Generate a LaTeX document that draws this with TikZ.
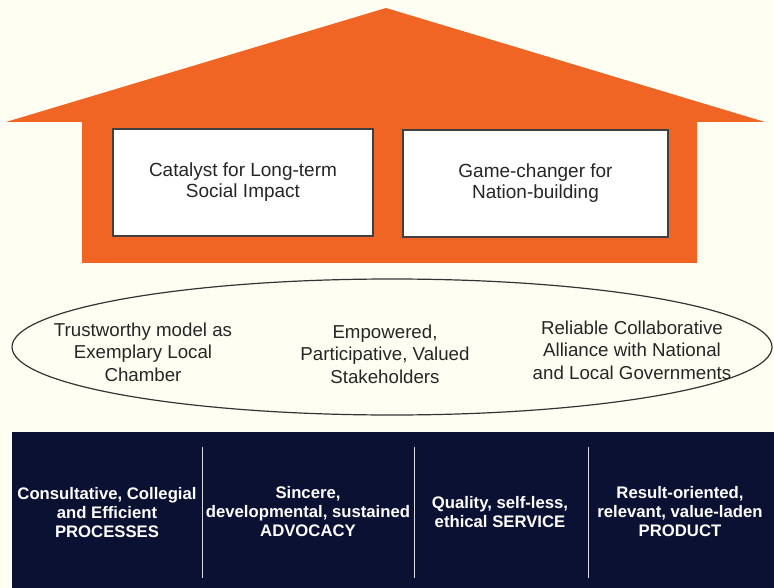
\documentclass[tikz,border=0pt]{standalone}
\usepackage{fontspec}
\setmainfont{Liberation Sans}
\usetikzlibrary{shapes.geometric}

\definecolor{houseorange}{HTML}{F06424}
\definecolor{basenavy}{HTML}{0B1133}
\definecolor{paper}{HTML}{FFFEF2}

\begin{document}
\begin{tikzpicture}[x=1pt,y=-1pt,
                    font=\fontsize{19}{21}\selectfont]
  \tikzstyle{goal}=[draw=black!75,fill=white,line width=1.1pt,minimum height=107pt,align=center,text=black!85]
  \tikzstyle{value}=[align=center,text=black!85,font=\fontsize{18.7}{22.5}\selectfont]
  \tikzstyle{pillar}=[text=white,align=center,font=\bfseries\fontsize{16.7}{19}\selectfont]

  \fill[paper] (0,0) rectangle (774,588);
  \useasboundingbox (0,0) rectangle (774,588);

  \coordinate  (apex)  at (386,8);
  \coordinate  (eaveL) at (6,122);
  \coordinate  (eaveR) at (765,122);
  \coordinate  (wallL) at (82,122);
  \coordinate  (wallR) at (697,122);
  \coordinate  (footL) at (82,263);
  \coordinate  (footR) at (697,263);

  % house
  \fill[houseorange] (apex) -- (eaveR) -- (wallR) -- (footR) -- (footL) -- (wallL) -- (eaveL) -- cycle;

  \node[goal,minimum width=260pt] (impact) at (243,182.5) {Catalyst for Long-term\\Social Impact};
  \node[goal,minimum width=265pt] (nation) at (535.5,183.5) {Game-changer for\\Nation-building};

  % values
  \node[draw=black!80,line width=1.2pt,ellipse,minimum width=760pt,minimum height=136pt] (values) at (392,347) {};
  \node[value] (model)    at (143,352) {Trustworthy model as\\Exemplary Local\\Chamber};
  \node[value] (stake)    at (385,354) {Empowered,\\Participative, Valued\\Stakeholders};
  \node[value] (alliance) at (632,350) {Reliable Collaborative\\Alliance with National\\and Local Governments};

  % pillars
  \fill[basenavy] (12,432) rectangle (774,588);
  \coordinate  (d1t) at (202,447);  \coordinate  (d1b) at (202,578);
  \coordinate  (d2t) at (414,447);  \coordinate  (d2b) at (414,578);
  \coordinate  (d3t) at (588,447);  \coordinate  (d3b) at (588,578);
  \path[draw=white!85!basenavy,line width=0.8pt]
        (d1t) edge (d1b)
        (d2t) edge (d2b)
        (d3t) edge (d3b);

  \node[pillar] (process)  at (107,513) {Consultative, Collegial\\and Efficient\\PROCESSES};
  \node[pillar] (advocacy) at (308,512) {Sincere,\\developmental, sustained\\ADVOCACY};
  \node[pillar] (service)  at (500,512) {Quality, self-less,\\ethical SERVICE};
  \node[pillar] (product)  at (680,512) {Result-oriented,\\relevant, value-laden\\PRODUCT};

\end{tikzpicture}
\end{document}
